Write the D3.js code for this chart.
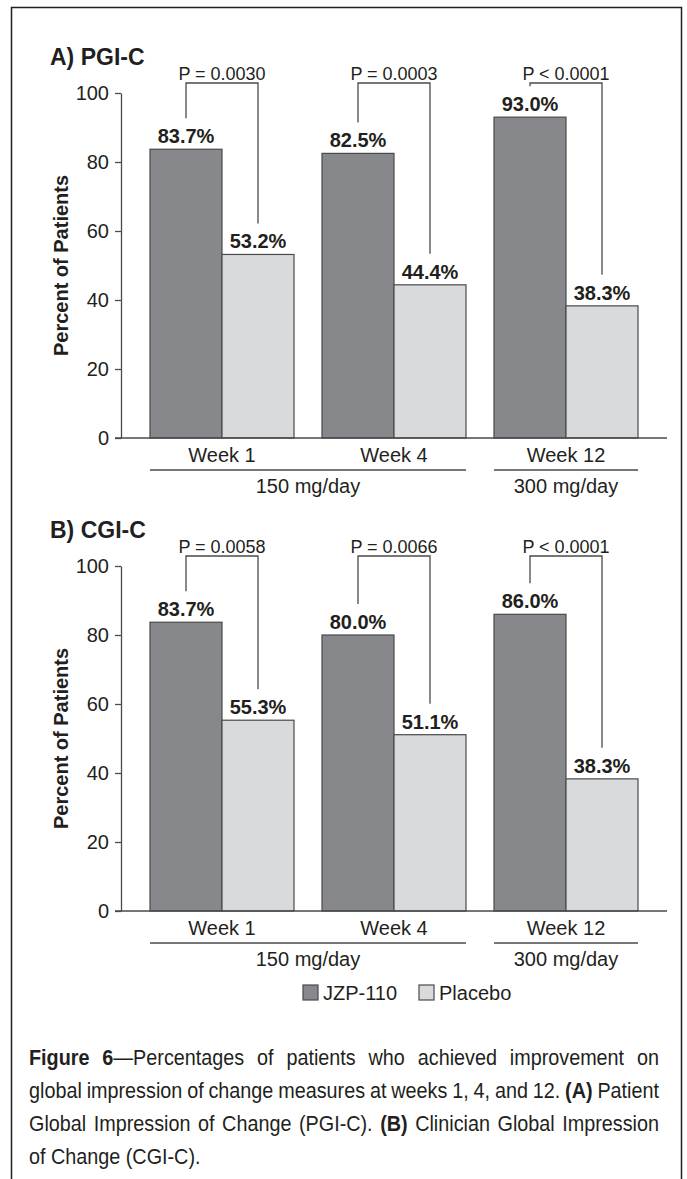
<!DOCTYPE html>
<html lang="en">
<head>
  <meta charset="UTF-8">
  <title>Figure 6 – PGI-C and CGI-C</title>
  <script src="https://d3js.org/d3.v7.min.js"></script>
  <style>
    body {
      margin: 0;
      background: #fff;
    }
    svg text {
      font-family: "Liberation Sans", Arial, sans-serif;
      fill: #231f20;
    }
  </style>
</head>
<body>
<div id="chart"></div>

<script>
  // data
  var weeks = ["Week 1", "Week 4", "Week 12"];
  var series = ["JZP-110", "Placebo"];
  var doseLabels = ["150 mg/day", "300 mg/day"];
  var doseWeeks = [["Week 1", "Week 4"], ["Week 12"]];
  var yTicks = [0, 20, 40, 60, 80, 100];

  var pgicJzp = [83.7, 82.5, 93.0];
  var pgicPlacebo = [53.2, 44.4, 38.3];
  var pgicP = ["P = 0.0030", "P = 0.0003", "P < 0.0001"];

  var cgicJzp = [83.7, 80.0, 86.0];
  var cgicPlacebo = [55.3, 51.1, 38.3];
  var cgicP = ["P = 0.0058", "P = 0.0066", "P < 0.0001"];

  var panels = [
    { title: "A) PGI-C", jzp: pgicJzp, placebo: pgicPlacebo, p: pgicP, top: 0 },
    { title: "B) CGI-C", jzp: cgicJzp, placebo: cgicPlacebo, p: cgicP, top: 473 }
  ];

  var width = 687, height = 1179;
  var fills = { "JZP-110": "#87888b", "Placebo": "#d9dadb" };
  var lineColor = "#4a4a4c";

  var svg = d3.select("#chart").append("svg")
    .attr("width", width)
    .attr("height", height);

  // frame (bottom edge runs off the page)
  svg.append("rect")
    .attr("x", 11.5).attr("y", 7.5)
    .attr("width", 670).attr("height", 1200)
    .attr("fill", "none")
    .attr("stroke", "#231f20")
    .attr("stroke-width", 1.5);

  var x = d3.scaleBand()
    .domain(weeks)
    .range([136, 652])
    .paddingInner(28 / 172)
    .paddingOuter(14 / 172);

  var xs = d3.scaleBand()
    .domain(series)
    .range([0, x.bandwidth()]);

  panels.forEach(function(pn) {
    var g = svg.append("g").attr("transform", "translate(0," + pn.top + ")");
    var y = d3.scaleLinear().domain([0, 100]).range([438, 93]);

    g.append("text")
      .attr("x", 50).attr("y", 65)
      .attr("font-size", 23).attr("font-weight", "bold")
      .text(pn.title);

    // y axis
    var yAxis = g.append("g")
      .attr("transform", "translate(121,0)")
      .call(d3.axisLeft(y).tickValues(yTicks).tickSize(6).tickSizeOuter(0).tickPadding(6));
    yAxis.selectAll("path, line").attr("stroke", lineColor).attr("stroke-width", 1.3);
    yAxis.selectAll("text")
      .attr("font-size", 20)
      .attr("font-family", "Liberation Sans, Arial, sans-serif")
      .attr("fill", "#231f20");

    g.append("text")
      .attr("transform", "translate(68," + (y(50)) + ") rotate(-90)")
      .attr("text-anchor", "middle")
      .attr("font-size", 20).attr("font-weight", "bold")
      .text("Percent of Patients");

    var rows = weeks.map(function(w, i) {
      return { week: w, values: [
        { s: "JZP-110", v: pn.jzp[i] },
        { s: "Placebo", v: pn.placebo[i] }
      ], p: pn.p[i] };
    });

    var grp = g.selectAll(".grp").data(rows).enter().append("g")
      .attr("class", "grp")
      .attr("transform", function(d) { return "translate(" + x(d.week) + ",0)"; });

    grp.selectAll("rect").data(function(d) { return d.values; }).enter().append("rect")
      .attr("x", function(d) { return xs(d.s); })
      .attr("y", function(d) { return y(d.v); })
      .attr("width", xs.bandwidth())
      .attr("height", function(d) { return y(0) - y(d.v); })
      .attr("fill", function(d) { return fills[d.s]; })
      .attr("stroke", lineColor)
      .attr("stroke-width", 1.2);

    grp.selectAll(".val").data(function(d) { return d.values; }).enter().append("text")
      .attr("class", "val")
      .attr("x", function(d) { return xs(d.s) + xs.bandwidth() / 2; })
      .attr("y", function(d) { return y(d.v) - 6; })
      .attr("text-anchor", "middle")
      .attr("font-size", 20).attr("font-weight", "bold")
      .text(function(d) { return d3.format(".1f")(d.v) + "%"; });

    // significance brackets
    var bTop = y(100) - 10;
    grp.append("path")
      .attr("fill", "none")
      .attr("stroke", lineColor)
      .attr("stroke-width", 1.3)
      .attr("d", function(d) {
        var x0 = xs("JZP-110") + xs.bandwidth() / 2;
        var x1 = xs("Placebo") + xs.bandwidth() / 2;
        return "M" + x0 + "," + (y(d.values[0].v) - 31) +
          "V" + bTop + "H" + x1 + "V" + (y(d.values[1].v) - 31);
      });

    grp.append("text")
      .attr("x", x.bandwidth() / 2)
      .attr("y", bTop - 3)
      .attr("text-anchor", "middle")
      .attr("font-size", 18)
      .text(function(d) { return d.p; });

    // x axis
    g.append("line")
      .attr("x1", 115).attr("x2", 667)
      .attr("y1", y(0)).attr("y2", y(0))
      .attr("stroke", lineColor).attr("stroke-width", 1.3);

    var xAxis = g.append("g")
      .attr("transform", "translate(0," + y(0) + ")")
      .call(d3.axisBottom(x).tickSize(0).tickPadding(10));
    xAxis.select(".domain").remove();
    xAxis.selectAll("text")
      .attr("font-size", 20)
      .attr("font-family", "Liberation Sans, Arial, sans-serif")
      .attr("fill", "#231f20")
      .attr("dy", "0.71em");

    doseLabels.forEach(function(lab, i) {
      var ws = doseWeeks[i];
      var a = x(ws[0]), b = x(ws[ws.length - 1]) + x.bandwidth();
      g.append("line")
        .attr("x1", a).attr("x2", b)
        .attr("y1", y(0) + 32).attr("y2", y(0) + 32)
        .attr("stroke", lineColor).attr("stroke-width", 1.3);
      g.append("text")
        .attr("x", (a + b) / 2).attr("y", y(0) + 55)
        .attr("text-anchor", "middle")
        .attr("font-size", 20)
        .text(lab);
    });
  });

  // legend
  var lx = [303, 419];
  series.forEach(function(s, i) {
    svg.append("rect")
      .attr("x", lx[i]).attr("y", 985)
      .attr("width", 15).attr("height", 15)
      .attr("fill", fills[s])
      .attr("stroke", lineColor).attr("stroke-width", 1.2);
    svg.append("text")
      .attr("x", lx[i] + 20).attr("y", 1000)
      .attr("font-size", 20)
      .text(s);
  });

  // caption, justified lines (narrowed to look like a condensed face)
  var capLines = [
    [["Figure 6", true], ["—Percentages of patients who achieved improvement on", false]],
    [["global impression of change measures at weeks 1, 4, and 12. ", false], ["(A)", true], [" Patient", false]],
    [["Global Impression of Change (PGI-C). ", false], ["(B)", true], [" Clinician Global Impression", false]],
    [["of Change (CGI-C).", false]]
  ];
  var capLeft = 29, capRight = 659, squeeze = 0.9;
  capLines.forEach(function(parts, i) {
    var t = svg.append("text")
      .attr("transform", "translate(" + capLeft + "," + (1065 + i * 33) + ") scale(" + squeeze + ",1)")
      .attr("font-size", 22);
    parts.forEach(function(p) {
      t.append("tspan")
        .attr("font-weight", p[1] ? "bold" : null)
        .text(p[0]);
    });
    if (i < capLines.length - 1) {
      var len = t.node().getComputedTextLength();
      var spaces = parts.map(function(p) { return p[0]; }).join("").split(" ").length - 1;
      t.attr("word-spacing", ((capRight - capLeft) / squeeze - len) / spaces);
    }
  });
</script>
</body>
</html>
